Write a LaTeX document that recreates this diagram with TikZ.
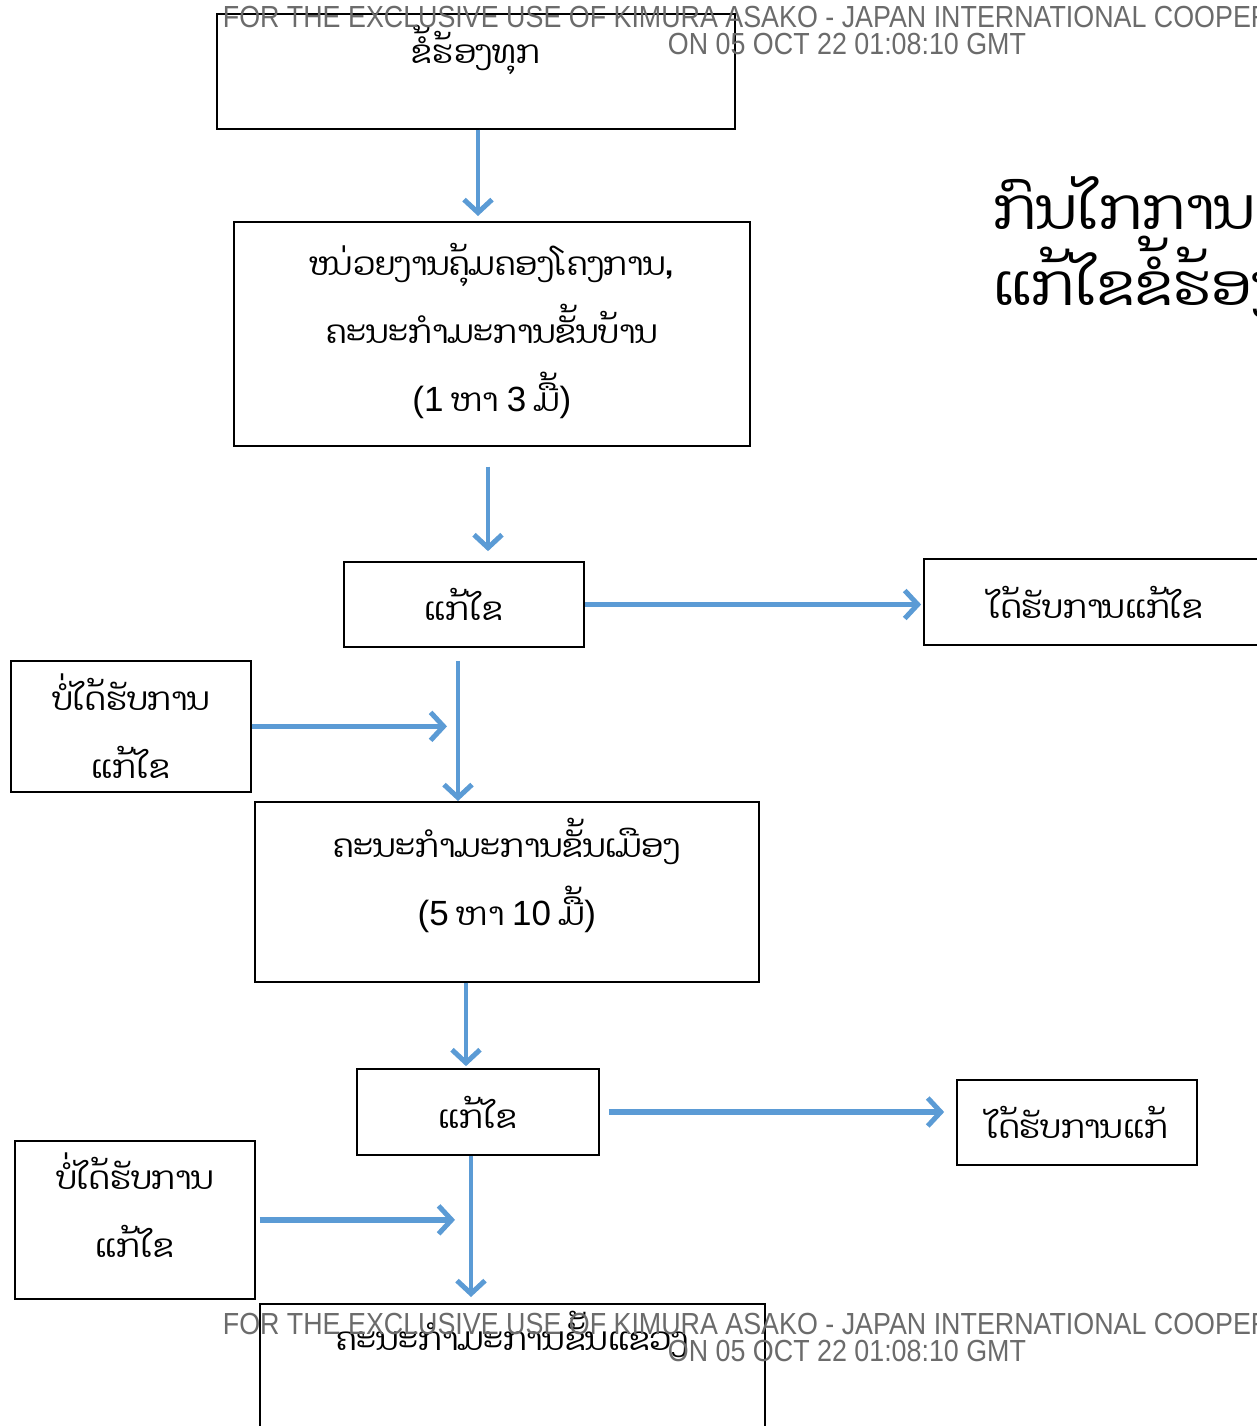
\documentclass[tikz,border=0pt]{standalone}
\usepackage{fontspec}
\setmainfont{Liberation Sans}
\newfontfamily\lao[Script=Lao]{Dhyana}
\newfontfamily\wmfont[FakeStretch=0.88]{Liberation Sans}
\usetikzlibrary{arrows.meta}
\definecolor{arrowblue}{HTML}{5B9BD5}
\newcommand{\lat}[1]{{\rmfamily\fontsize{35}{68}\selectfont #1}}
\tikzset{
  box/.style={draw, line width=1.7pt, inner sep=0pt, align=center,
    font=\fontsize{32}{68}\selectfont\lao},
  arr/.style={draw=arrowblue, line width=3.8pt,
    -{Straight Barb[length=13pt, width=28pt, line width=5pt]}},
  wide/.style={arr, line width=5.5pt},
  wmark/.style={align=center, text=black!58, inner sep=0pt,
    font=\fontsize{30.5}{27}\selectfont\wmfont},
}
\begin{document}
\begin{tikzpicture}[x=1pt, y=-1pt]
  \useasboundingbox (0,0) rectangle (1257,1426);

  \node[box, minimum width=518pt, text height=50pt, text depth=65pt, anchor=north west] (complaint) at (216,13) {ຂໍ້ຮ້ອງທຸກ};
  \node[box, minimum width=516pt, text height=190pt, text depth=34pt, anchor=north west] (village) at (233,221) {ໜ່ວຍງານຄຸ້ມຄອງໂຄງການ,\\ຄະນະກຳມະການຂັ້ນບ້ານ\\\lat{(1} ຫາ \lat{3} ມື້\lat{)}};
  \node[box, minimum width=240pt, minimum height=85pt] (solvedA) at (464,604.5) {ແກ້ໄຂ};
  \node[box, minimum width=344pt, minimum height=86pt] (okA) at (1096,602) {ໄດ້ຮັບການແກ້ໄຂ};
  \node[box, minimum width=240pt, text height=118pt, text depth=13pt, anchor=north west] (notokA) at (10,660) {ບໍ່ໄດ້ຮັບການ\\ແກ້ໄຂ};
  \node[box, minimum width=504pt, text height=124pt, text depth=56pt, anchor=north west] (district) at (254,801) {ຄະນະກຳມະການຂັ້ນເມືອງ\\\lat{(5} ຫາ \lat{10} ມື້\lat{)}};
  \node[box, minimum width=242pt, minimum height=86pt] (solvedB) at (478,1112) {ແກ້ໄຂ};
  \node[box, minimum width=240pt, minimum height=85pt] (okB) at (1077,1122.5) {ໄດ້ຮັບການແກ້};
  \node[box, minimum width=240pt, text height=117pt, text depth=41pt, anchor=north west] (notokB) at (14,1140) {ບໍ່ໄດ້ຮັບການ\\ແກ້ໄຂ};
  \node[box, minimum width=505pt, text height=47pt, text depth=133pt, anchor=north west] (province) at (259,1303) {ຄະນະກຳມະການຂັ້ນແຂວງ};

  \node[anchor=north west, align=left, inner sep=0pt, font=\fontsize{58}{76}\selectfont\lao] (heading) at (993,176) {ກົນໄກການ\\ແກ້ໄຂຂໍ້ຮ້ອງທຸກ};

  % arrow columns
  \coordinate (c1) at (478,0);
  \coordinate (c2) at (488,0);
  \coordinate (c3) at (458,0);
  \coordinate (c4) at (466,0);
  \coordinate (c5) at (471,0);

  \draw[arr, shorten >=5pt] (complaint.south -| c1) -- (village.north -| c1);
  \draw[arr, shorten <=20pt, shorten >=10pt] (village.south -| c2) -- (solvedA.north -| c2);
  \draw[wide, shorten >=2pt] (solvedA.east) -- (solvedA.east -| okA.west);
  \draw[arr, shorten <=13pt] (solvedA.south -| c3) -- (district.north -| c3);
  \draw[wide, shorten >=11pt] (notokA.east) -- (notokA.east -| c3);
  \draw[arr, shorten >=2pt] (district.south -| c4) -- (solvedB.north -| c4);
  \draw[wide, shorten <=9pt, shorten >=12pt] (solvedB.east) -- (solvedB.east -| okB.west);
  \draw[arr, shorten >=6pt] (solvedB.south -| c5) -- (province.north -| c5);
  \draw[wide, shorten <=4pt, shorten >=16pt] (notokB.east) -- (notokB.east -| c5);

  \node[wmark, anchor=north] (wmtop) at (847,6) {FOR THE EXCLUSIVE USE OF KIMURA ASAKO - JAPAN INTERNATIONAL COOPERATION AGENCY\\ON 05 OCT 22 01:08:10 GMT};
  \node[wmark, anchor=north] (wmbottom) at (847,1313) {FOR THE EXCLUSIVE USE OF KIMURA ASAKO - JAPAN INTERNATIONAL COOPERATION AGENCY\\ON 05 OCT 22 01:08:10 GMT};
\end{tikzpicture}
\end{document}
